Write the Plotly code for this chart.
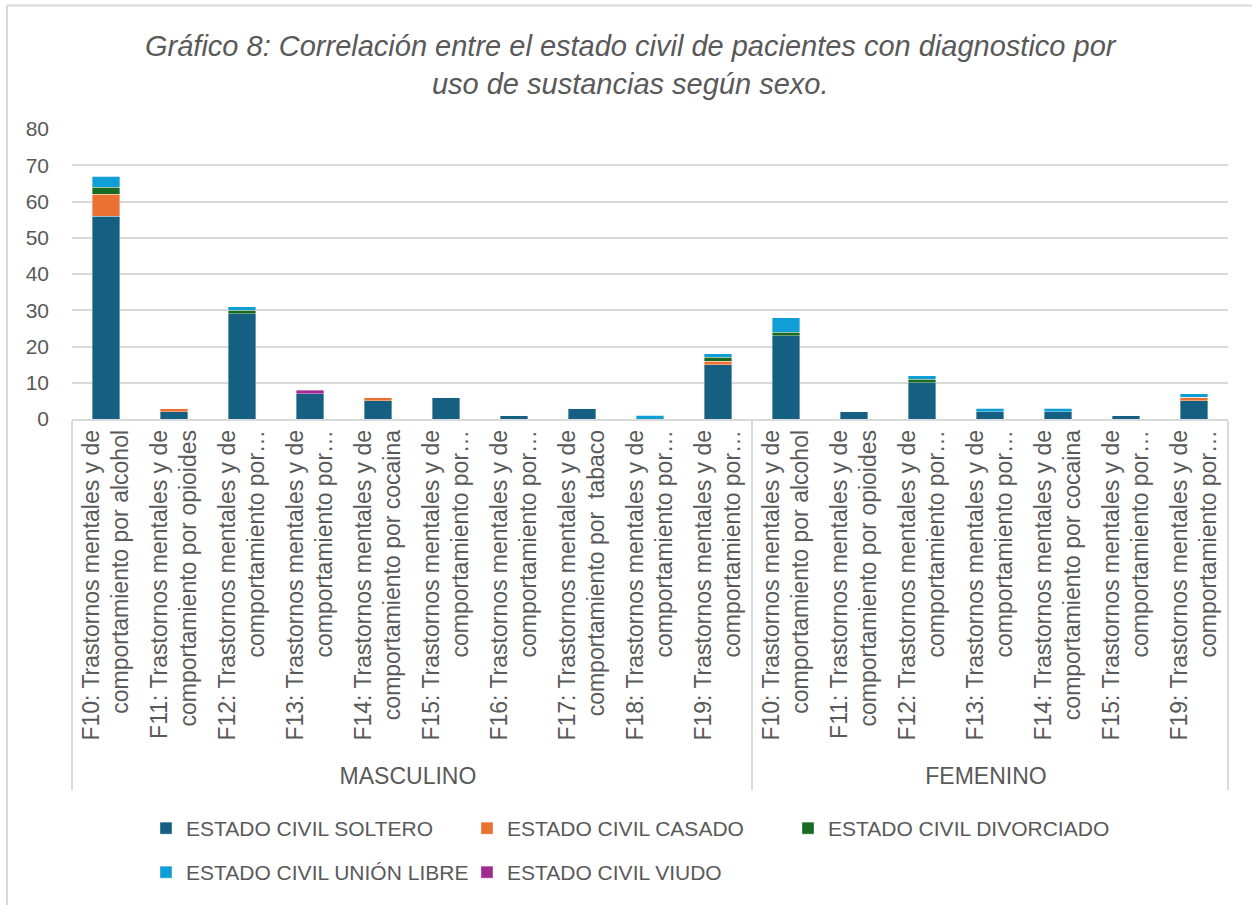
import plotly.graph_objects as go

sexo = ["MASCULINO"] * 10 + ["FEMENINO"] * 7
diagnosticos = [
    "F10: Trastornos mentales y de<br>comportamiento por alcohol",
    "F11: Trastornos mentales y de<br>comportamiento por opioides",
    "F12: Trastornos mentales y de<br>comportamiento por…",
    "F13: Trastornos mentales y de<br>comportamiento por…",
    "F14: Trastornos mentales y de<br>comportamiento por cocaina",
    "F15: Trastornos mentales y de<br>comportamiento por…",
    "F16: Trastornos mentales y de<br>comportamiento por…",
    "F17: Trastornos mentales y de<br>comportamiento por  tabaco",
    "F18: Trastornos mentales y de<br>comportamiento por…",
    "F19: Trastornos mentales y de<br>comportamiento por…",
    "F10: Trastornos mentales y de<br>comportamiento por alcohol",
    "F11: Trastornos mentales y de<br>comportamiento por opioides",
    "F12: Trastornos mentales y de<br>comportamiento por…",
    "F13: Trastornos mentales y de<br>comportamiento por…",
    "F14: Trastornos mentales y de<br>comportamiento por cocaina",
    "F15: Trastornos mentales y de<br>comportamiento por…",
    "F19: Trastornos mentales y de<br>comportamiento por…",
]

series = ["ESTADO CIVIL SOLTERO", "ESTADO CIVIL CASADO", "ESTADO CIVIL DIVORCIADO",
          "ESTADO CIVIL UNIÓN LIBRE", "ESTADO CIVIL VIUDO"]
soltero    = [56, 2, 29, 7, 5, 6, 1, 3, 0, 15, 23, 2, 10, 2, 2, 1, 5]
casado     = [6, 1, 0, 0, 1, 0, 0, 0, 0, 1, 0, 0, 0, 0, 0, 0, 1]
divorciado = [2, 0, 1, 0, 0, 0, 0, 0, 0, 1, 1, 0, 1, 0, 0, 0, 0]
union      = [3, 0, 1, 0, 0, 0, 0, 0, 1, 1, 4, 0, 1, 1, 1, 0, 1]
viudo      = [0, 0, 0, 1, 0, 0, 0, 0, 0, 0, 0, 0, 0, 0, 0, 0, 0]
valores = [soltero, casado, divorciado, union, viudo]
colores = ["#156082", "#E97132", "#196B24", "#0F9ED5", "#A02B93"]
leyendas = ["legend", "legend", "legend", "legend2", "legend2"]

titulo = "Gráfico 8: Correlación entre el estado civil de pacientes con diagnostico por<br>uso de sustancias según sexo."

FONT = "Liberation Sans"
GRAY = "#595959"
LINE = "#d9d9d9"

# Layout in pixels
W, H = 1252, 905
L, R, T, B = 72, 24, 129, 486
pw, ph = W - L - R, H - T - B

def px_x(x):
    return (x - L) / pw

def px_y(y):
    return (H - B - y) / ph

fig = go.Figure()
for nombre, vals, col, lg in zip(series, valores, colores, leyendas):
    fig.add_trace(go.Bar(
        x=[sexo, diagnosticos], y=vals, name=nombre,
        marker=dict(color=col, line=dict(color="rgba(255,255,255,0.6)", width=0.6)),
        legend=lg,
    ))

leg_common = dict(orientation="h", xanchor="left", yanchor="top", traceorder="normal",
                  entrywidth=276, entrywidthmode="pixels",
                  font=dict(family=FONT, size=21, color=GRAY), bgcolor="rgba(0,0,0,0)")

fig.update_layout(
    width=W, height=H,
    barmode="stack", bargap=0.6,
    margin=dict(l=L, r=R, t=T, b=B, autoexpand=False),
    paper_bgcolor="white", plot_bgcolor="white",
    font=dict(family=FONT, color=GRAY, size=20),
    showlegend=True,
    legend=dict(x=px_x(146), y=px_y(808), **leg_common),
    legend2=dict(x=px_x(146), y=px_y(852), **leg_common),
    xaxis=dict(
        type="multicategory", tickangle=-90, showline=True, linecolor=LINE, linewidth=1.5,
        showdividers=True, dividercolor=LINE, dividerwidth=1.5, ticks="",
        tickfont=dict(family=FONT, size=23, color=GRAY), showgrid=False,
    ),
    yaxis=dict(
        range=[0, 80], dtick=10, showgrid=True, gridcolor=LINE, gridwidth=1.5,
        zeroline=False, showline=False, ticks="", ticklabelstandoff=22,
        tickfont=dict(family=FONT, size=21, color=GRAY),
    ),
    annotations=[dict(
        text=titulo, xref="paper", yref="paper", x=px_x(631), y=px_y(64.5), showarrow=False,
        xanchor="center", yanchor="middle",
        font=dict(family=FONT, size=29, color=GRAY, style="italic"),
    )],
    shapes=[
        dict(type="line", xref="paper", yref="paper", x0=px_x(7), x1=px_x(7),
             y0=px_y(5.5), y1=px_y(910), line=dict(color=LINE, width=2)),
        dict(type="line", xref="paper", yref="paper", x0=px_x(7), x1=px_x(1260),
             y0=px_y(5.5), y1=px_y(5.5), line=dict(color=LINE, width=2)),
    ],
)

fig.write_html("out.html", config={"displayModeBar": False},
               post_script="document.body.style.margin='0';")
